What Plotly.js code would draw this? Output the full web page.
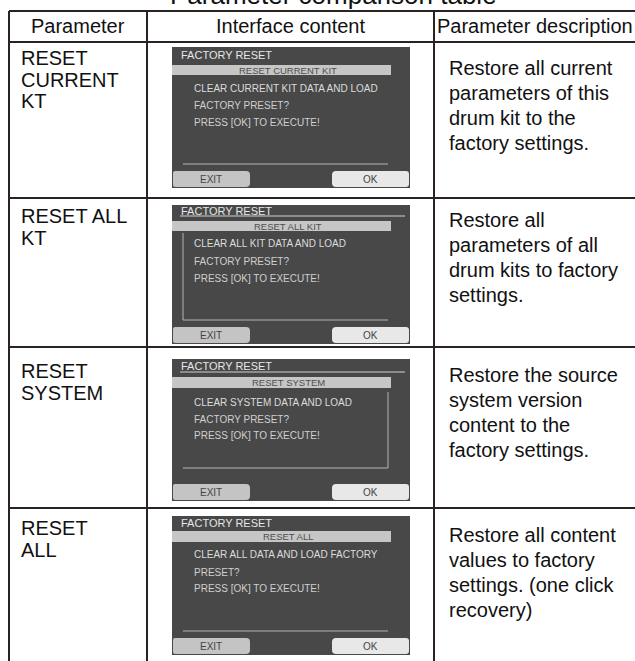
<!DOCTYPE html>
<html>
<head>
<meta charset="utf-8">
<script src="https://cdn.plot.ly/plotly-3.0.1.min.js"></script>
<style>html,body{margin:0;padding:0;background:#fff;}#chart{width:635px;height:661px;}</style>
</head>
<body>
<div id="chart"></div>
<script>
// ---------- content ----------
const titleText = "Parameter comparison table";
const headers = ["Parameter", "Interface content", "Parameter description"];
const paramNames = [
  ["RESET", "CURRENT", "KT"],
  ["RESET ALL", "KT"],
  ["RESET", "SYSTEM"],
  ["RESET", "ALL"]
];
const descriptions = [
  ["Restore all current", "parameters of this", "drum kit to the", "factory settings."],
  ["Restore all", "parameters of all", "drum kits to factory", "settings."],
  ["Restore the source", "system version", "content to the", "factory settings."],
  ["Restore all content", "values to factory", "settings. (one click", "recovery)"]
];
const screenTitle = "FACTORY RESET";
const screenHeads = ["RESET CURRENT KIT", "RESET ALL KIT", "RESET SYSTEM", "RESET ALL"];
const screenLines = [
  ["CLEAR CURRENT KIT DATA AND LOAD", "FACTORY PRESET?", "PRESS [OK] TO EXECUTE!"],
  ["CLEAR ALL KIT DATA AND LOAD", "FACTORY PRESET?", "PRESS [OK] TO EXECUTE!"],
  ["CLEAR SYSTEM DATA AND LOAD", "FACTORY PRESET?", "PRESS [OK] TO EXECUTE!"],
  ["CLEAR ALL DATA AND LOAD FACTORY", "PRESET?", "PRESS [OK] TO EXECUTE!"]
];
const buttonLabels = ["EXIT", "OK"];

// ---------- geometry (layout only) ----------
const W = 635, H = 661;
const colX = [9, 147, 434, 637];
const rowY = [11, 42, 198, 347, 508];
const col1Base = [65, 223, 378, 535], col1Gap = 21.5;
const col3Base = [75, 227, 382, 542], col3Gap = 25;
const FS = 20, FONT = "Liberation Sans, Arial, sans-serif";
const scrX0 = 172, scrX1 = 410;
const scr = [
  {top: 47, bot: 188, title: 55, ul: null, bar: [65, 75], lines: [88, 105, 122], vl: null, hl: 164, btn: [171, 188]},
  {top: 205, bot: 344, title: 211, ul: 216, bar: [221, 231], lines: [243, 261, 278], vl: {x: 183, y0: 233, y1: 320}, hl: 320, btn: [327, 344]},
  {top: 359, bot: 501, title: 366, ul: 372, bar: [377, 388], lines: [402, 419, 435], vl: {x: 388, y0: 392, y1: 468}, hl: 468, btn: [484, 501]},
  {top: 516, bot: 655, title: 523, ul: null, bar: [531, 542], lines: [554, 572, 588], vl: null, hl: 631, btn: [638, 655]}
];

const shapes = [], ann = [];
const LC = "#2b2222";
function line(x0, y0, x1, y1, c, w) {
  shapes.push({type: "line", xref: "x", yref: "y", x0, y0, x1, y1, line: {color: c, width: w}});
}
function rect(x0, y0, x1, y1, fill) {
  shapes.push({type: "rect", xref: "x", yref: "y", x0, y0, x1, y1, fillcolor: fill, line: {width: 0}, layer: "above"});
}
// rounded rectangle; rl / rr = radius of left / right corners
function rrect(x0, y0, x1, y1, rl, rr, fill) {
  const p = `M${x0 + rl},${y0} L${x1 - rr},${y0} Q${x1},${y0} ${x1},${y0 + rr} L${x1},${y1 - rr} Q${x1},${y1} ${x1 - rr},${y1} ` +
            `L${x0 + rl},${y1} Q${x0},${y1} ${x0},${y1 - rl} L${x0},${y0 + rl} Q${x0},${y0} ${x0 + rl},${y0} Z`;
  shapes.push({type: "path", xref: "x", yref: "y", path: p, fillcolor: fill, line: {width: 0}, layer: "above"});
}
function txt(t, x, y, size, color, xa) {
  ann.push({text: t, x, y, xref: "x", yref: "y", xanchor: xa || "left", yanchor: "middle",
    showarrow: false, font: {family: FONT, size, color}, borderpad: 0});
}

// table grid
line(colX[0], rowY[0], W, rowY[0], LC, 2);
for (let r = 1; r < rowY.length; r++) line(colX[0], rowY[r], W, rowY[r], LC, 2);
for (let c = 0; c < 3; c++) line(colX[c], rowY[0], colX[c], H, LC, 2);

// title (partly cut off at the top, as in the source)
ann.push({text: titleText, x: 333, y: 1 - (-4.5) / H, xref: "x", yref: "paper", xanchor: "center", yanchor: "middle",
  showarrow: false, font: {family: FONT, size: 26, color: "#111"}, borderpad: 0});

// headers
const headBase = 33;
headers.forEach((h, i) => txt(h, (colX[i] + Math.min(colX[i + 1], W)) / 2, headBase - 0.35 * FS, FS, "#111", "center"));

// parameter names & descriptions
paramNames.forEach((lines, r) => lines.forEach((t, k) => txt(t, 20, col1Base[r] + k * col1Gap - 0.35 * FS, FS, "#111")));
descriptions.forEach((lines, r) => lines.forEach((t, k) => txt(t, 448, col3Base[r] + k * col3Gap - 0.35 * FS, FS, "#111")));

// interface screens
scr.forEach((g, i) => {
  rect(scrX0, g.top, scrX1, g.bot, "#484848");
  txt(screenTitle, 180, g.title, 11, "#e6e6e6");
  if (g.ul !== null) line(180, g.ul, 405, g.ul, "#d0d0d0", 1);
  rect(scrX0, g.bar[0], 391, g.bar[1], "#c6c6c6");
  txt(screenHeads[i], 288, (g.bar[0] + g.bar[1]) / 2, 9.5, "#4e4e4e", "center");
  screenLines[i].forEach((t, k) => txt(t, 193, g.lines[k], 10, k === 0 ? "#dcdcdc" : "#cfcfcf"));
  if (g.vl) line(g.vl.x, g.vl.y0, g.vl.x, g.vl.y1, "#b4b4b4", 1);
  line(183, g.hl, 388, g.hl, "#b4b4b4", 1);
  rrect(scrX0 + 1, g.btn[0], 250, g.btn[1] - 1, 2, 4, "#c4c4c4");
  rrect(332, g.btn[0], scrX1 - 1, g.btn[1] - 1, 4, 3, "#e8e8e8");
  const by = (g.btn[0] + g.btn[1]) / 2;
  txt(buttonLabels[0], 211, by, 10, "#444", "center");
  txt(buttonLabels[1], 370, by, 10, "#444", "center");
});

const layout = {
  width: W, height: H,
  margin: {l: 0, r: 0, t: 0, b: 0, pad: 0},
  paper_bgcolor: "#fff", plot_bgcolor: "#fff",
  xaxis: {range: [0, W], visible: false, fixedrange: true},
  yaxis: {range: [H, 0], visible: false, fixedrange: true},
  showlegend: false,
  shapes: shapes,
  annotations: ann
};
Plotly.newPlot("chart", [{x: [], y: [], type: "scatter", mode: "markers", hoverinfo: "skip"}], layout, {staticPlot: true, displayModeBar: false});
</script>
</body>
</html>
